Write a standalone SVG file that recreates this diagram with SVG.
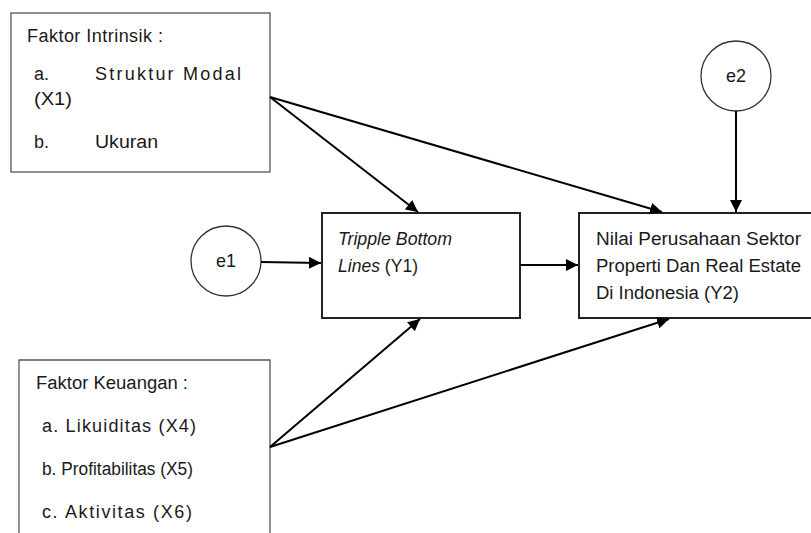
<svg xmlns="http://www.w3.org/2000/svg" width="811" height="533" viewBox="0 0 811 533">
<style>
.box{fill:#fff;stroke:#555;stroke-width:1.3}
.nb{fill:#fff;stroke:#222;stroke-width:2}
.t{font-family:"Liberation Sans",Arial,sans-serif;font-size:18px;fill:#1a1a1a}
.it{font-style:italic}
.c{stroke:#000;stroke-width:2;fill:none;marker-end:url(#ah)}
</style>
<defs>
<marker id="ah" viewBox="0 0 10 10" refX="10" refY="5" markerWidth="6" markerHeight="6" orient="auto" markerUnits="strokeWidth">
<path d="M0,0 L10,5 L0,10 z" fill="#000"/>
</marker>
</defs>
<rect width="811" height="533" fill="#fff"/>
<g id="x-intrinsik">
<rect class="box" x="11" y="13" width="259" height="159"/>
<text class="t" x="27" y="42" textLength="136" lengthAdjust="spacing">Faktor Intrinsik :</text>
<text class="t" x="34" y="80">a.</text>
<text class="t" x="95" y="80" textLength="146" lengthAdjust="spacing">Struktur Modal</text>
<text class="t" x="34" y="105" textLength="38" lengthAdjust="spacingAndGlyphs">(X1)</text>
<text class="t" x="34" y="148">b.</text>
<text class="t" x="95" y="148" textLength="63" lengthAdjust="spacingAndGlyphs">Ukuran</text>
</g>
<g id="x-keuangan">
<path class="box" d="M19,540 L19,360 L270,360 L270,540"/>
<text class="t" x="36" y="389" textLength="152" lengthAdjust="spacingAndGlyphs">Faktor Keuangan :</text>
<text class="t" x="42" y="432" textLength="154" lengthAdjust="spacing">a. Likuiditas (X4)</text>
<text class="t" x="42" y="475" textLength="151" lengthAdjust="spacingAndGlyphs">b. Profitabilitas  (X5)</text>
<text class="t" x="42" y="518" textLength="150" lengthAdjust="spacing">c. Aktivitas (X6)</text>
</g>
<g id="y1">
<rect class="nb" x="322" y="213" width="198" height="105"/>
<text class="t it" x="338" y="245" textLength="114" lengthAdjust="spacingAndGlyphs">Tripple  Bottom</text>
<text class="t" x="338" y="272" textLength="80" lengthAdjust="spacingAndGlyphs"><tspan class="it">Lines</tspan> (Y1)</text>
</g>
<g id="y2">
<rect class="nb" x="579" y="213" width="240" height="105"/>
<text class="t" x="596" y="245" textLength="205" lengthAdjust="spacingAndGlyphs">Nilai  Perusahaan  Sektor</text>
<text class="t" x="596" y="272" textLength="205" lengthAdjust="spacingAndGlyphs">Properti Dan Real Estate</text>
<text class="t" x="596" y="299" textLength="143" lengthAdjust="spacingAndGlyphs">Di Indonesia (Y2)</text>
</g>
<g id="e1">
<circle cx="226" cy="261" r="35" fill="#fff" stroke="#333" stroke-width="1.3"/>
<text class="t" x="226" y="267" text-anchor="middle">e1</text>
</g>
<g id="e2">
<circle cx="736" cy="76" r="35" fill="#fff" stroke="#333" stroke-width="1.3"/>
<text class="t" x="736" y="82" text-anchor="middle">e2</text>
</g>
<g id="connectors">
<line class="c" x1="270" y1="97" x2="418" y2="212"/>
<line class="c" x1="270" y1="97" x2="662" y2="212"/>
<line class="c" x1="270" y1="447" x2="420" y2="319"/>
<line class="c" x1="270" y1="447" x2="669" y2="319"/>
<line class="c" x1="261" y1="262" x2="321" y2="263"/>
<line class="c" x1="520" y1="265" x2="578" y2="265"/>
<line class="c" x1="736" y1="111" x2="736" y2="212"/>
</g>
</svg>
